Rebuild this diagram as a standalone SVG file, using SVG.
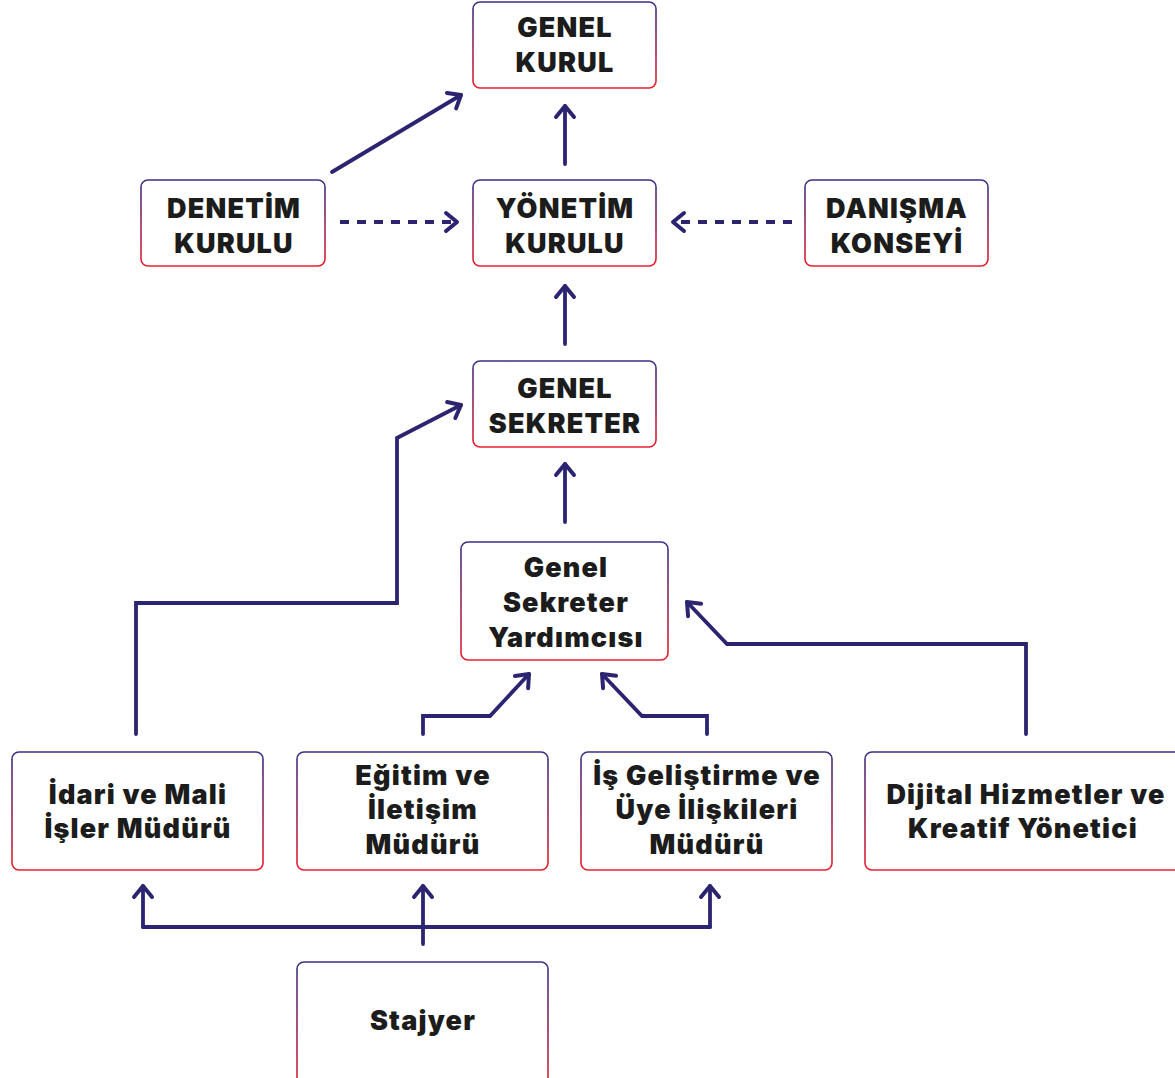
<svg xmlns="http://www.w3.org/2000/svg" width="1175" height="1078" viewBox="0 0 1175 1078">
<defs>
<linearGradient id="bg" x1="0" y1="0" x2="0" y2="1">
<stop offset="0" stop-color="#3a2f86"/>
<stop offset="1" stop-color="#e8202f"/>
</linearGradient>
<marker id="ah" markerUnits="userSpaceOnUse" markerWidth="30" markerHeight="30" viewBox="-15 -15 30 30" refX="0" refY="0" orient="auto">
<polyline points="-11,-9 0,0 -11,9" fill="none" stroke="#2b2470" stroke-width="4" stroke-linecap="round" stroke-linejoin="round"/>
</marker>
<style>
.box{fill:#fff;stroke:url(#bg);stroke-width:1.6}
.t{font-family:Inter,"Open Sans","Liberation Sans",sans-serif;font-weight:900;font-size:27px;letter-spacing:1.2px;fill:#1c1c1c;text-anchor:middle}
.c{fill:none;stroke:#2b2470;stroke-width:3.8;stroke-linecap:round;stroke-linejoin:miter;marker-end:url(#ah)}
.n{fill:none;stroke:#2b2470;stroke-width:3.8;stroke-linecap:round}
.d{stroke-dasharray:9 8;stroke-linecap:butt}
</style>
</defs>
<rect width="1175" height="1078" fill="#fff"/>
<g id="connectors">
<line class="c" x1="565" y1="164" x2="565" y2="106"/>
<line class="c" x1="332" y1="172" x2="461" y2="95"/>
<line class="c d" x1="340" y1="222" x2="457" y2="222"/>
<line class="c d" x1="792" y1="222" x2="673" y2="222"/>
<line class="c" x1="565" y1="344" x2="565" y2="286"/>
<line class="c" x1="565" y1="522" x2="565" y2="464"/>
<polyline class="c" points="136,734 136,603 397,603 397,438 461,405"/>
<polyline class="c" points="423,734 423,716 490,716 529,674"/>
<polyline class="c" points="707,734 707,716 642,716 602,674"/>
<polyline class="c" points="1026,734 1026,644 727,644 687,602"/>
<line class="n" x1="143" y1="927" x2="710" y2="927"/>
<line class="c" x1="143" y1="927" x2="143" y2="886"/>
<line class="c" x1="710" y1="927" x2="710" y2="886"/>
<line class="c" x1="423" y1="944" x2="423" y2="886"/>
</g>
<g id="genel-kurul"><rect class="box" x="473" y="2" width="183" height="86" rx="7"/><text class="t" x="565" y="37">GENEL</text><text class="t" x="565" y="72">KURUL</text></g>
<g id="denetim-kurulu"><rect class="box" x="141" y="180" width="184" height="86" rx="7"/><text class="t" x="234" y="218">DENETİM</text><text class="t" x="234" y="253">KURULU</text></g>
<g id="yonetim-kurulu"><rect class="box" x="473" y="180" width="183" height="86" rx="7"/><text class="t" x="565" y="218">YÖNETİM</text><text class="t" x="565" y="253">KURULU</text></g>
<g id="danisma-konseyi"><rect class="box" x="805" y="180" width="183" height="86" rx="7"/><text class="t" x="897" y="218">DANIŞMA</text><text class="t" x="897" y="253">KONSEYİ</text></g>
<g id="genel-sekreter"><rect class="box" x="473" y="361" width="183" height="86" rx="7"/><text class="t" x="565" y="398">GENEL</text><text class="t" x="565" y="433">SEKRETER</text></g>
<g id="genel-sekreter-yardimcisi"><rect class="box" x="461" y="542" width="207" height="118" rx="7"/><text class="t" x="566" y="577">Genel</text><text class="t" x="566" y="612">Sekreter</text><text class="t" x="566" y="647">Yardımcısı</text></g>
<g id="idari-mali"><rect class="box" x="12" y="752" width="251" height="118" rx="7"/><text class="t" x="138" y="804">İdari ve Mali</text><text class="t" x="138" y="838">İşler Müdürü</text></g>
<g id="egitim-iletisim"><rect class="box" x="297" y="752" width="251" height="118" rx="7"/><text class="t" x="423" y="785">Eğitim ve</text><text class="t" x="423" y="819">İletişim</text><text class="t" x="423" y="854">Müdürü</text></g>
<g id="is-gelistirme"><rect class="box" x="581" y="752" width="251" height="118" rx="7"/><text class="t" x="707" y="785">İş Geliştirme ve</text><text class="t" x="707" y="819">Üye İlişkileri</text><text class="t" x="707" y="854">Müdürü</text></g>
<g id="dijital"><rect class="box" x="865" y="752" width="320" height="118" rx="7"/><text class="t" x="1026" y="804">Dijital Hizmetler ve</text><text class="t" x="1023" y="838">Kreatif Yönetici</text></g>
<g id="stajyer"><rect class="box" x="297" y="962" width="251" height="130" rx="7"/><text class="t" x="423" y="1030">Stajyer</text></g>
</svg>
